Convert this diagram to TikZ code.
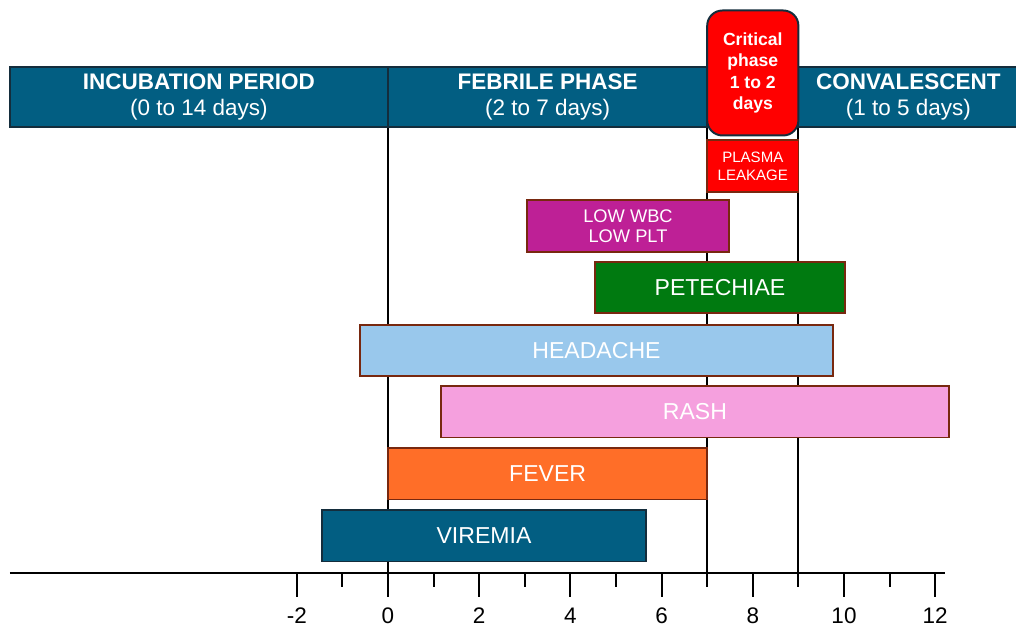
\documentclass[tikz,border=0pt]{standalone}
\usepackage{fontspec}
\setmainfont{Liberation Sans}
\usetikzlibrary{positioning}

\definecolor{phaseblue}{RGB}{2,94,130}
\definecolor{phaseedge}{RGB}{20,45,60}
\definecolor{baredge}{RGB}{120,40,15}
\definecolor{critred}{RGB}{255,0,0}
\definecolor{wbcpurple}{RGB}{190,32,150}
\definecolor{petgreen}{RGB}{0,122,16}
\definecolor{headblue}{RGB}{153,200,236}
\definecolor{rashpink}{RGB}{245,160,222}
\definecolor{feverorange}{RGB}{255,110,40}

\tikzset{
  phase/.style={draw=phaseedge, line width=1.2pt, fill=phaseblue, text=white,
    minimum height=1.5cm, inner sep=0pt, align=center, font=\fontsize{16}{18.5}\selectfont},
  bar/.style={draw=baredge, line width=1.2pt, text=white, inner sep=0pt,
    minimum height=1.28cm, align=center, font=\fontsize{16.4}{18}\selectfont},
  daysline/.style={line width=1.4pt, black},
}

\begin{document}
\begin{tikzpicture}[x=1.14cm, y=-0.025cm]
        \useasboundingbox (-8.509,0) rectangle (13.772,631);
        % phase boundaries
        \coordinate (t0) at (0,127);
        \coordinate (t7) at (7,127);
        \coordinate (t9) at (9,127);
        \coordinate (b0) at (0,597);
        \coordinate (b7) at (7,587);
        \coordinate (b9) at (9,587);
        \draw[daysline] (t0) -- (b0);
        \draw[daysline] (t7) -- (b7);
        \draw[daysline] (t9) -- (b9);
        % time axis
        \coordinate (axl) at (-8.29,573);
        \coordinate (axr) at (12.22,573);
        \draw[daysline] (axl) -- (axr);
        \foreach \d in {-2,2,4,...,12}
            \draw[daysline] (\d,573) -- (\d,597);
        \foreach \d in {-1,1,3,5,11}
            \draw[daysline] (\d,573) -- (\d,587);
        \foreach \d in {-2,0,2,...,12}
            \node[font=\fontsize{16}{18}\selectfont, inner sep=0pt] (lab\d) at (\d,616) {\d};
        % phases
        \node[phase, minimum width=9.45cm] (incub) at (-4.145,97)
            {\textbf{INCUBATION PERIOD}\\(0 to 14 days)};
        \node[phase, minimum width=7.975cm] (febrile) at (3.5,97)
            {\textbf{FEBRILE PHASE}\\(2 to 7 days)};
        \node[phase, minimum width=5.5cm] (conval) at (11.41,97)
            {\textbf{CONVALESCENT}\\(1 to 5 days)};
        \node[draw=phaseedge, line width=1.4pt, fill=critred, text=white, rounded corners=0.38cm,
            minimum width=2.28cm, minimum height=3.125cm, inner sep=0pt, align=center,
            font=\bfseries\fontsize{12.5}{15}\selectfont] (critical) at (8,73)
            {Critical\\phase\\1 to 2\\days};
        % symptoms
        \node[bar, fill=critred, minimum width=2.28cm, minimum height=1.3cm,
            font=\fontsize{10.7}{12.8}\selectfont] (plasma) at (8,166) {PLASMA\\LEAKAGE};
        \node[bar, fill=wbcpurple, minimum width=5.05cm, minimum height=1.3cm,
            font=\fontsize{13}{14}\selectfont] (wbc) at (5.263,226) {LOW WBC\\LOW PLT};
        \node[bar, fill=petgreen, minimum width=6.25cm] (petech) at (7.28,287.5) {PETECHIAE};
        \node[bar, fill=headblue, minimum width=11.825cm] (headache) at (4.572,350.5) {HEADACHE};
        \node[bar, fill=rashpink, minimum width=12.7cm] (rash) at (6.732,412) {RASH};
        \node[bar, fill=feverorange, minimum width=7.975cm] (fever) at (3.5,474) {FEVER};
        \node[bar, fill=phaseblue, draw=phaseedge, minimum width=8.1cm] (viremia) at (2.105,536) {VIREMIA};
\end{tikzpicture}
\end{document}
